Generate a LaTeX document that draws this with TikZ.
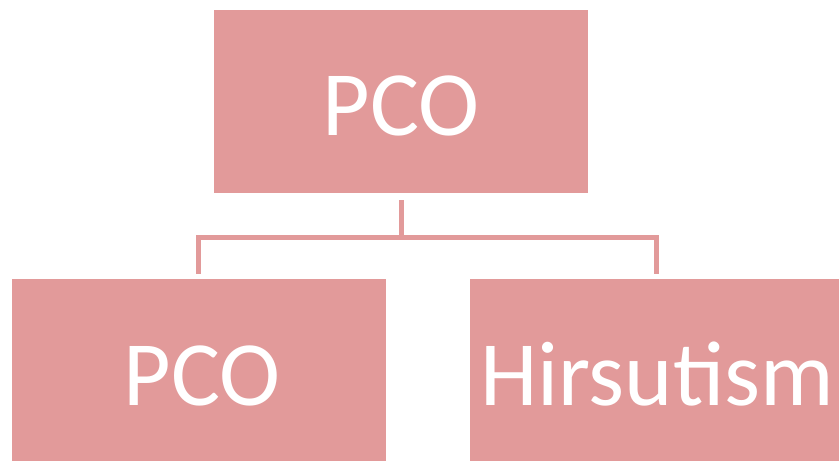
\documentclass[tikz,border=0pt]{standalone}
\usepackage{fontspec}
\setmainfont{Carlito}
\definecolor{boxpink}{HTML}{E29A9A}
\begin{document}
\begin{tikzpicture}[x=1pt,y=-1pt,
  box/.style={fill=boxpink, draw=none, minimum width=374pt, minimum height=183pt, inner sep=0pt},
  lbl/.style={text=white, font=\fontsize{92}{92}\selectfont, anchor=base, inner sep=0pt},
  conn/.style={draw=boxpink, line width=5pt}]
\useasboundingbox (0,0) rectangle (839,461);
\clip (0,0) rectangle (839,461);
\node[box] (top) at (401,101.5) {};
\node[box] (left) at (198.5,370.5) {};
\node[box] (right) at (656.5,370.5) {};
\node[lbl] (topt) at (401,135) {PCO};
\node[lbl] (leftt) at (202,405) {PCO};
\node[lbl] (rightt) at (657,405) {Hirsutism};
\coordinate (bus) at (401,237);
\draw[conn] ([yshift=-7pt]top.south) -- (bus);
\draw[conn] ([yshift=5pt]left.north) |- (bus) -| ([yshift=5pt]right.north);
\end{tikzpicture}
\end{document}
